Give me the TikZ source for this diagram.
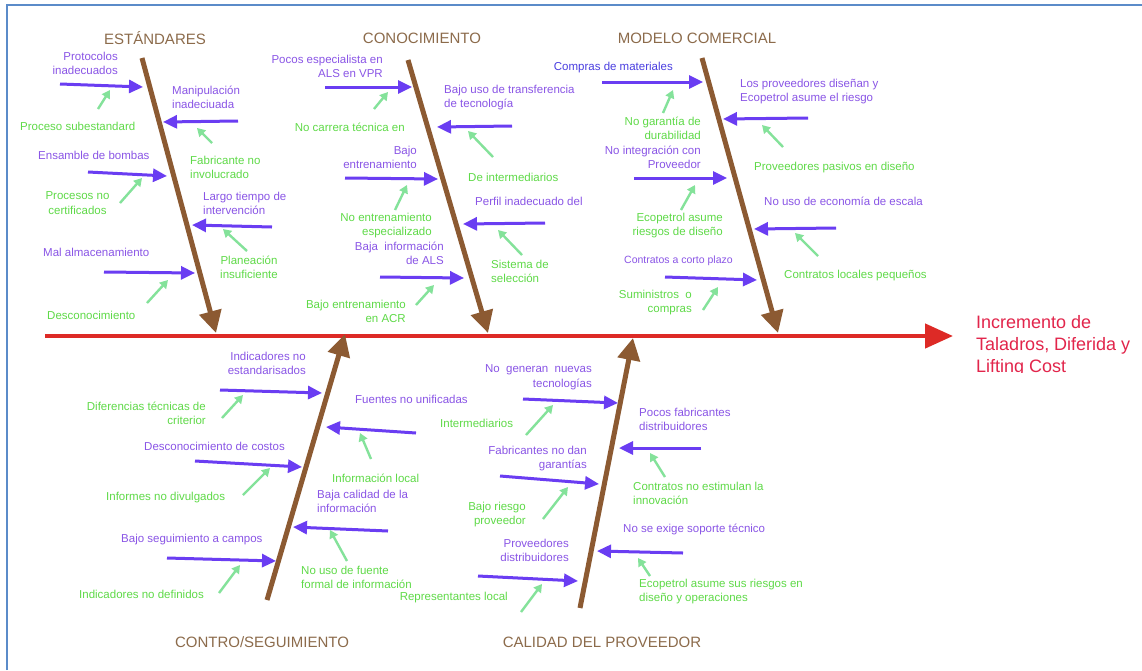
\documentclass[tikz,border=0pt]{standalone}
\usepackage{fontspec}
\setmainfont{Liberation Sans}
\usetikzlibrary{arrows.meta}

\definecolor{frameblue}{HTML}{5B8BC9}
\definecolor{spinered}{HTML}{DD2A26}
\definecolor{effectred}{HTML}{E2254B}
\definecolor{bonebrown}{HTML}{8C5A32}
\definecolor{titlebrown}{HTML}{8C6B4B}
\definecolor{causetxt}{HTML}{8A55E6}
\definecolor{causebl}{HTML}{4A3EE0}
\definecolor{causearr}{HTML}{6A3DF2}
\definecolor{subtxt}{HTML}{5FDA48}
\definecolor{subarr}{HTML}{84E29A}

\tikzset{
  ctext/.style={inner sep=0pt, text=causetxt, font=\fontsize{11.5}{14.5}\selectfont},
  stext/.style={inner sep=0pt, text=subtxt, font=\fontsize{11.5}{14.5}\selectfont},
  cat/.style={inner sep=0pt, text=titlebrown, font=\fontsize{15}{18}\selectfont},
  carrow/.style={draw=causearr, line width=3pt, -{Triangle[length=14pt,width=13pt]}},
  sarrow/.style={draw=subarr, line width=2.4pt, -{Triangle[length=8pt,width=9pt]}},
  bone/.style={draw=bonebrown, line width=5pt, -{Triangle[length=22pt,width=22pt]}},
}

% arrow between two named coordinates: name, start, end, style
\newcommand\linkarrow[4]{%
  \coordinate (#1s) at (#2);
  \coordinate (#1e) at (#3);
  \draw[#4] (#1s) -- (#1e);}

\begin{document}
\begin{tikzpicture}[x=1pt,y=-1pt]
\useasboundingbox (0,0) rectangle (1142,670);
\fill[white] (0,0) rectangle (1142,670);

% frame edges
\draw[frameblue, line width=2pt] (7,670) -- (7,5) -- (1142,5);

% spine and effect
\coordinate (spineS) at (45,336);
\coordinate (spineE) at (953,336);
\draw[spinered, line width=4.5pt, -{Triangle[length=28pt,width=24pt]}] (spineS) -- (spineE);
\begin{scope}
  \clip (960,300) rectangle (1142,372.5);
  \node[inner sep=0pt, anchor=north west, align=left, text=effectred,
        font=\fontsize{18}{22}\selectfont] (effect) at (976,315)
        {Incremento de\\Taladros, Diferida y\\Lifting Cost};
\end{scope}

% main bones
\linkarrow{boneA}{142,58}{216,333}{bone}
\linkarrow{boneB}{408,60}{488,333}{bone}
\linkarrow{boneC}{702,58}{778,333}{bone}
\linkarrow{boneD}{267,600}{345,334}{bone}
\linkarrow{boneE}{580,608}{633,338}{bone}

% category titles
\node[cat] (tA) at (155,38) {ESTÁNDARES};
\node[cat] (tB) at (422,38) {CONOCIMIENTO};
\node[cat] (tC) at (697,38) {MODELO COMERCIAL};
\node[cat] (tD) at (262,642) {CONTRO/SEGUIMIENTO};
\node[cat] (tE) at (602,642) {CALIDAD DEL PROVEEDOR};

% ---------- ESTÁNDARES ----------
\node[ctext, anchor=north east, align=right] (a1) at (118,51.5) {Protocolos\\inadecuados};
\linkarrow{a1}{60,84}{143,87}{carrow}
\node[stext, anchor=north west] (a1g) at (20,121.5) {Proceso subestandard};
\linkarrow{a1g}{98,109}{110,90}{sarrow}

\node[ctext, anchor=north west, align=left] (a2) at (172,85.5) {Manipulación\\inadeciuada};
\linkarrow{a2}{238,121}{163,122}{carrow}
\node[stext, anchor=north west, align=left] (a2g) at (190,155.5) {Fabricante no\\involucrado};
\linkarrow{a2g}{212,143}{197,128}{sarrow}

\node[ctext, anchor=north west] (a3) at (38,150.5) {Ensamble de bombas};
\linkarrow{a3}{88,172}{167,176}{carrow}
\node[stext, anchor=north, align=center] (a3g) at (77.5,191.5) {Procesos no\\certificados};
\linkarrow{a3g}{120,203}{142,178}{sarrow}

\node[ctext, anchor=north west, align=left] (a4) at (203,191.5) {Largo tiempo de\\intervención};
\linkarrow{a4}{272,227}{192,225}{carrow}
\node[stext, anchor=north, align=center] (a4g) at (249,255.5) {Planeación\\insuficiente};
\linkarrow{a4g}{247,251}{223,229}{sarrow}

\node[ctext, anchor=north west] (a5) at (43,247.5) {Mal almacenamiento};
\linkarrow{a5}{104,272}{195,273}{carrow}
\node[stext, anchor=north west] (a5g) at (47,310.5) {Desconocimiento};
\linkarrow{a5g}{147,303}{168,280}{sarrow}

% ---------- CONOCIMIENTO ----------
\node[ctext, anchor=north east, align=right] (b1) at (383,54.5) {Pocos especialista en\\ALS en VPR};
\linkarrow{b1}{325,87}{412,87}{carrow}
\node[stext, anchor=north east] (b1g) at (405,122.5) {No carrera técnica en};
\linkarrow{b1g}{374,109}{388,92}{sarrow}

\node[ctext, anchor=north west, align=left] (b2) at (444,84.5) {Bajo uso de transferencia\\de tecnología};
\linkarrow{b2}{512,126}{437,127}{carrow}
\node[stext, anchor=north west] (b2g) at (468,172.5) {De intermediarios};
\linkarrow{b2g}{493,157}{468,131}{sarrow}

\node[ctext, anchor=north east, align=right] (b3) at (417,145.5) {Bajo\\entrenamiento};
\linkarrow{b3}{345,178}{438,179}{carrow}
\node[stext, anchor=north east, align=right] (b3g) at (432,212.5) {No entrenamiento\\especializado};
\linkarrow{b3g}{395,210}{407,185}{sarrow}

\node[ctext, anchor=north west] (b4) at (475,196.5) {Perfil inadecuado del};
\linkarrow{b4}{545,223}{463,224}{carrow}
\node[stext, anchor=north west, align=left] (b4g) at (491,259.5) {Sistema de\\selección};
\linkarrow{b4g}{522,255}{498,230}{sarrow}

\node[ctext, anchor=north east, align=right] (b5) at (444,241.5) {Baja\ \ información\\de ALS};
\linkarrow{b5}{380,277}{464,278}{carrow}
\node[stext, anchor=north east, align=right] (b5g) at (406,299.5) {Bajo entrenamiento\\en ACR};
\linkarrow{b5g}{416,305}{434,285}{sarrow}

% ---------- MODELO COMERCIAL ----------
\node[ctext, text=causebl, anchor=north east] (c1) at (673,61.5) {Compras de materiales};
\linkarrow{c1}{602,82}{703,82}{carrow}
\node[stext, anchor=north east, align=right] (c1g) at (701,116.5) {No garantía de\\durabilidad};
\linkarrow{c1g}{663,113}{673,90}{sarrow}

\node[ctext, anchor=north west, align=left] (c2) at (740,78.5) {Los proveedores diseñan y\\Ecopetrol asume el riesgo};
\linkarrow{c2}{808,118}{723,119}{carrow}
\node[stext, anchor=north west] (c2g) at (754,161.5) {Proveedores pasivos en diseño};
\linkarrow{c2g}{783,147}{762,125}{sarrow}

\node[ctext, anchor=north east, align=right] (c3) at (701,145.5) {No integración con\\Proveedor};
\linkarrow{c3}{634,178}{727,178}{carrow}
\node[stext, anchor=north east, align=right] (c3g) at (723,212.5) {Ecopetrol asume\\riesgos de diseño};
\linkarrow{c3g}{681,210}{695,185}{sarrow}

\node[ctext, anchor=north west] (c4) at (764,196.5) {No uso de economía de escala};
\linkarrow{c4}{836,228}{754,229}{carrow}
\node[stext, anchor=north west] (c4g) at (784,269.5) {Contratos locales pequeños};
\linkarrow{c4g}{818,256}{795,233}{sarrow}

\node[ctext, anchor=north west, font=\fontsize{10.5}{13}\selectfont] (c5) at (624,256) {Contratos a corto plazo};
\linkarrow{c5}{665,277}{757,280}{carrow}
\node[stext, anchor=north east, align=right] (c5g) at (692,289.5) {Suministros\ \ o\\compras};
\linkarrow{c5g}{703,310}{718,287}{sarrow}

% ---------- CONTRO/SEGUIMIENTO ----------
\node[ctext, anchor=north east, align=right] (d1) at (306,351.5) {Indicadores no\\estandarisados};
\linkarrow{d1}{220,390}{322,393}{carrow}
\node[stext, anchor=north east, align=right] (d1g) at (206,401.5) {Diferencias técnicas de\\criterior};
\linkarrow{d1g}{222,418}{243,395}{sarrow}

\node[ctext, anchor=north west] (d2) at (355,394.5) {Fuentes no unificadas};
\linkarrow{d2}{416,433}{326,427}{carrow}
\node[stext, anchor=north west] (d2g) at (332,473.5) {Información local};
\linkarrow{d2g}{371,459}{360,433}{sarrow}

\node[ctext, anchor=north west] (d3) at (144,441.5) {Desconocimiento de costos};
\linkarrow{d3}{195,461}{302,467}{carrow}
\node[stext, anchor=north west] (d3g) at (106,491.5) {Informes no divulgados};
\linkarrow{d3g}{243,495}{270,468}{sarrow}

\node[ctext, anchor=north west, align=left] (d4) at (317,489.5) {Baja calidad de la\\información};
\linkarrow{d4}{388,531}{293,527}{carrow}
\node[stext, anchor=north west, align=left] (d4g) at (301,565.5) {No uso de fuente\\formal de información};
\linkarrow{d4g}{347,561}{330,530}{sarrow}

\node[ctext, anchor=north west] (d5) at (121,533.5) {Bajo seguimiento a campos};
\linkarrow{d5}{167,558}{276,561}{carrow}
\node[stext, anchor=north west] (d5g) at (79,589.5) {Indicadores no definidos};
\linkarrow{d5g}{219,593}{240,565}{sarrow}

% ---------- CALIDAD DEL PROVEEDOR ----------
\node[ctext, anchor=north east, align=right] (e1) at (592,364.5) {No\ \ generan\ \ nuevas\\tecnologías};
\linkarrow{e1}{523,399}{618,403}{carrow}
\node[stext, anchor=north west] (e1g) at (440,418.5) {Intermediarios};
\linkarrow{e1g}{526,435}{553,405}{sarrow}

\node[ctext, anchor=north west, align=left] (e2) at (639,407.5) {Pocos fabricantes\\distribuidores};
\linkarrow{e2}{701,448}{619,448}{carrow}
\node[stext, anchor=north west, align=left] (e2g) at (633,481.5) {Contratos no estimulan la\\innovación};
\linkarrow{e2g}{665,477}{650,453}{sarrow}

\node[ctext, anchor=north east, align=right] (e3) at (587,445.5) {Fabricantes no dan\\garantías};
\linkarrow{e3}{500,476}{599,484}{carrow}
\node[stext, anchor=north east, align=right] (e3g) at (526,501.5) {Bajo riesgo\\proveedor};
\linkarrow{e3g}{543,519}{568,487}{sarrow}

\node[ctext, anchor=north west] (e4) at (623,523.5) {No se exige soporte técnico};
\linkarrow{e4}{683,553}{597,551}{carrow}
\node[stext, anchor=north west, align=left] (e4g) at (639,578.5) {Ecopetrol asume sus riesgos en\\diseño y operaciones};
\linkarrow{e4g}{650,576}{638,558}{sarrow}

\node[ctext, anchor=north east, align=right] (e5) at (569,538.5) {Proveedores\\distribuidores};
\linkarrow{e5}{478,576}{578,581}{carrow}
\node[stext, anchor=north east] (e5g) at (508,591.5) {Representantes local};
\linkarrow{e5g}{521,612}{542,584}{sarrow}

\end{tikzpicture}
\end{document}
